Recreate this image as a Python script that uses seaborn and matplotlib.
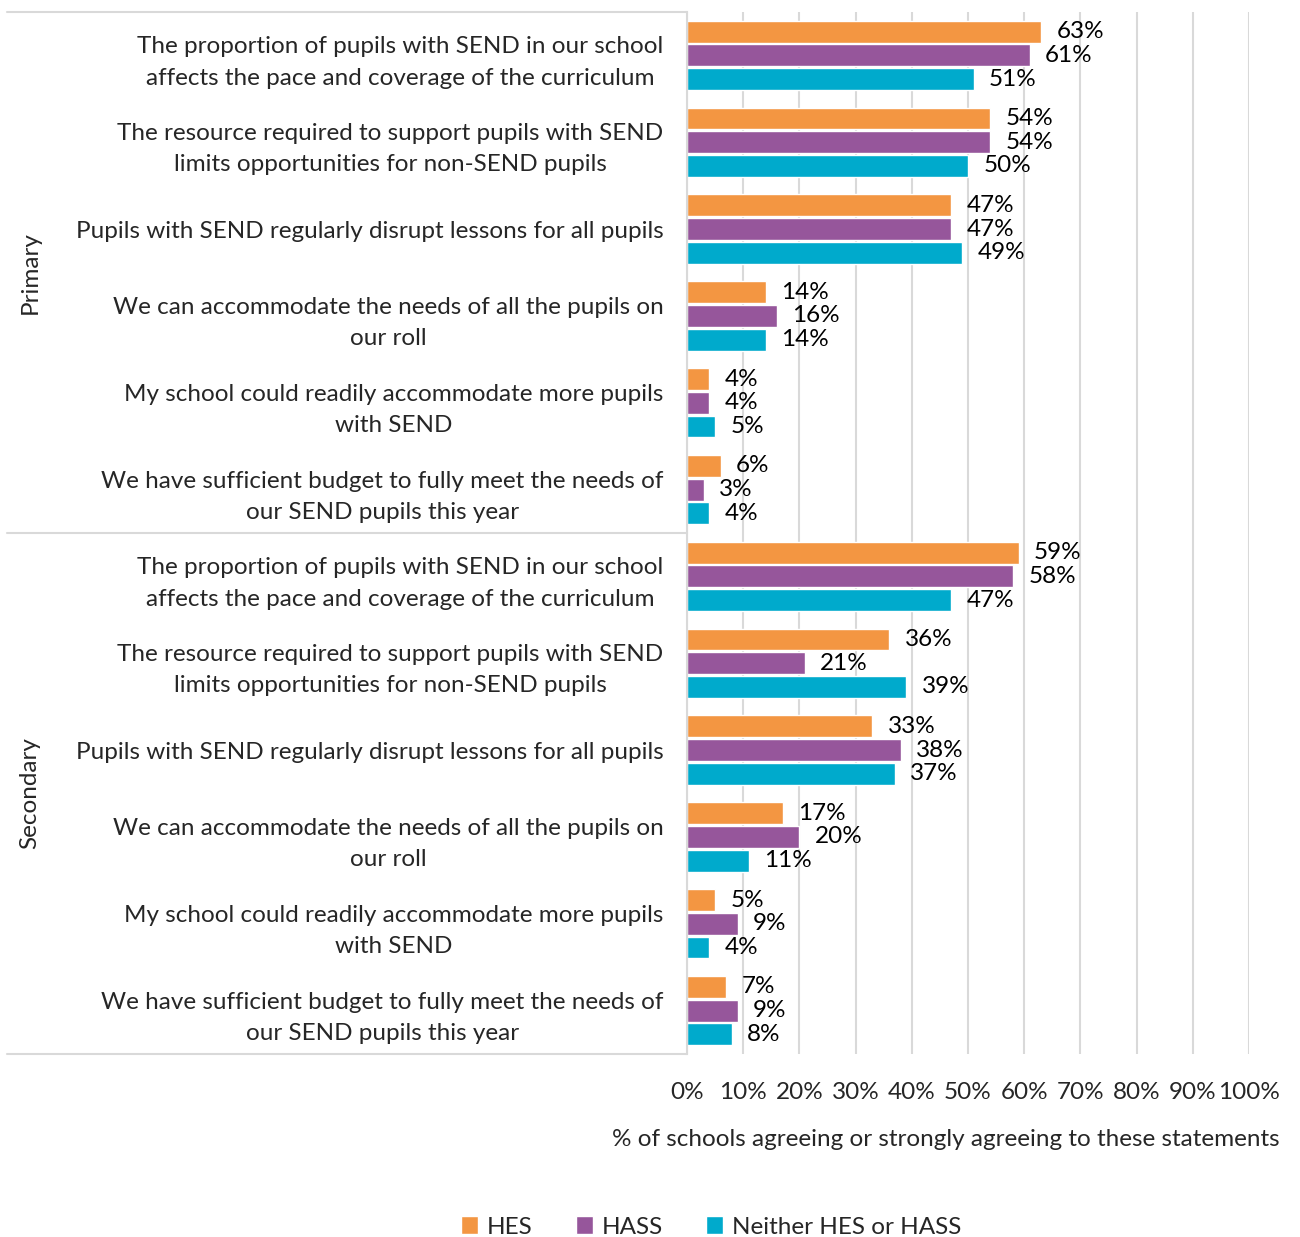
import matplotlib
matplotlib.use("Agg")
import matplotlib.pyplot as plt
import matplotlib.transforms as mtransforms
from matplotlib.patches import Patch
import seaborn as sns
import pandas as pd

# statements (wrapped as in the reference)
statements = [
    "The proportion of pupils with SEND in our school\naffects the pace and coverage of the curriculum",
    "The resource required to support pupils with SEND\nlimits opportunities for non-SEND pupils",
    "Pupils with SEND regularly disrupt lessons for all pupils",
    "We can accommodate the needs of all the pupils on\nour roll",
    "My school could readily accommodate more pupils\nwith SEND",
    "We have sufficient budget to fully meet the needs of\nour SEND pupils this year",
]
groups = ["Primary", "Secondary"]
series = ["HES", "HASS", "Neither HES or HASS"]
colors = ["#F39642", "#96569B", "#00AACC"]

primary_hes = [63, 54, 47, 14, 4, 6]
primary_hass = [61, 54, 47, 16, 4, 3]
primary_neither = [51, 50, 49, 14, 5, 4]
secondary_hes = [59, 36, 33, 17, 5, 7]
secondary_hass = [58, 21, 38, 20, 9, 9]
secondary_neither = [47, 39, 37, 11, 4, 8]

values = {
    "Primary": [primary_hes, primary_hass, primary_neither],
    "Secondary": [secondary_hes, secondary_hass, secondary_neither],
}

rows = []
keys = []
for g in groups:
    for i, s in enumerate(statements):
        key = f"{g}|{i}"
        keys.append(key)
        for j, name in enumerate(series):
            rows.append({"key": key, "series": name, "value": values[g][j][i]})
df = pd.DataFrame(rows)

sns.set_style("white")
plt.rcParams["font.family"] = ["Lato", "DejaVu Sans"]
FS = 17.5

fig = plt.figure(figsize=(13, 12.37), dpi=100)
ax = fig.add_axes([687 / 1300, 1 - 1054 / 1237, (1249 - 687) / 1300, (1054 - 12) / 1237])

sns.barplot(data=df, y="key", x="value", hue="series", order=keys, hue_order=series,
            palette=colors, orient="h", width=0.82, gap=0.08, ax=ax, legend=False,
            saturation=1)

for c in ax.containers:
    ax.bar_label(c, fmt="%g%%", padding=11, fontsize=FS, color="black")

ax.set_xlim(0, 100)
ax.set_ylim(11.5, -0.5)
ax.set_xticks(range(0, 101, 10))
ax.set_xticklabels([f"{t}%" for t in range(0, 101, 10)], fontsize=FS)
ax.set_yticks(range(len(keys)))
ax.set_yticklabels(statements * 2, fontsize=FS, linespacing=1.6)
for t in ax.get_yticklabels():
    t.set_multialignment("center")
ax.tick_params(axis="y", length=0, pad=17)
ax.tick_params(axis="x", length=0, pad=20)
ax.set_xlabel("")
ax.set_ylabel("")
ax.grid(axis="x", color="#d9d9d9", linewidth=1.5)
ax.set_axisbelow(True)
for side in ["top", "right", "bottom"]:
    ax.spines[side].set_visible(False)
ax.spines["left"].set_color("#d9d9d9")
ax.spines["left"].set_linewidth(1.5)

# group separators and labels
trans = mtransforms.blended_transform_factory(fig.transFigure, ax.transData)
x_left = 7 / 1300
x_right = 687 / 1300
for yb in [-0.5, 5.5, 11.5]:
    fig.add_artist(plt.Line2D([x_left, x_right], [yb, yb], transform=trans,
                              color="#d9d9d9", linewidth=1.5))
for gi, g in enumerate(groups):
    fig.text(30 / 1300, gi * 6 + 2.5, g, transform=trans, rotation=90,
             ha="center", va="center", fontsize=FS)

fig.text(946 / 1300, 1 - 1140 / 1237, "% of schools agreeing or strongly agreeing to these statements",
         ha="center", va="center", fontsize=FS)

handles = [Patch(facecolor=c, label=s) for c, s in zip(colors, series)]
fig.legend(handles=handles, loc="center", bbox_to_anchor=(711 / 1300, 1 - 1227 / 1237),
           ncol=3, frameon=False, fontsize=FS, handlelength=0.7, handleheight=0.7,
           handletextpad=0.35, columnspacing=1.8)

fig.savefig("out.png", dpi=100)
